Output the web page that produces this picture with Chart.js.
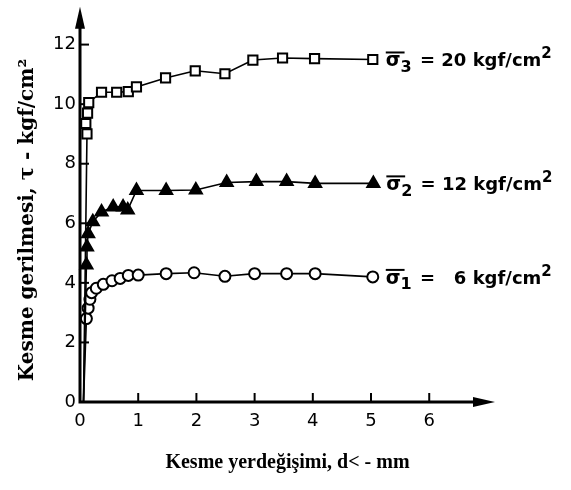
<!DOCTYPE html>
<html lang="tr">
<head>
<meta charset="UTF-8">
<title>Kesme gerilmesi - yerdeğişimi</title>
<script src="https://cdn.jsdelivr.net/npm/chart.js"></script>
<style>
    body { margin: 0; background: #fff; }
    .kutu { width: 571px; height: 490px; }
</style>
</head>
<body>
<div class="kutu"><canvas id="grafik"></canvas></div>
<script>
    // eksen değerleri
    const xTicks = [0, 1, 2, 3, 4, 5, 6];
    const yTicks = [0, 2, 4, 6, 8, 10, 12];
    const xOkUcu = 7.13;   // x ekseni okunun ucu
    const yOkUcu = 13.27;  // y ekseni okunun ucu

    // σ3 = 20 kgf/cm2 (kare)
    const d3 = [0.06, 0.12, 0.10, 0.13, 0.15, 0.37, 0.63, 0.83, 0.97, 1.47, 1.98, 2.49, 2.97, 3.48, 4.03, 5.03];
    const tau3 = [0, 9.0, 9.35, 9.7, 10.05, 10.4, 10.4, 10.42, 10.58, 10.88, 11.12, 11.02, 11.48, 11.55, 11.53, 11.5];

    // σ2 = 12 kgf/cm2 (üçgen)
    const d2 = [0.06, 0.11, 0.12, 0.14, 0.22, 0.37, 0.57, 0.74, 0.82, 0.97, 1.48, 1.99, 2.52, 3.03, 3.55, 4.04, 5.04];
    const tau2 = [0, 4.6, 5.2, 5.65, 6.05, 6.38, 6.55, 6.55, 6.45, 7.1, 7.1, 7.12, 7.37, 7.4, 7.4, 7.34, 7.34];

    // σ1 = 6 kgf/cm2 (daire)
    const d1 = [0.06, 0.11, 0.14, 0.17, 0.20, 0.28, 0.40, 0.55, 0.69, 0.83, 1.00, 1.48, 1.96, 2.49, 3.00, 3.55, 4.04, 5.03];
    const tau1 = [0, 2.8, 3.15, 3.45, 3.67, 3.82, 3.95, 4.07, 4.15, 4.25, 4.26, 4.31, 4.34, 4.22, 4.31, 4.31, 4.31, 4.2];

    const gerilmeler = ['20', '12', '6'];
    const altIndis = ['3', '2', '1'];
    const yBaslik = 'Kesme gerilmesi, τ - kgf/cm²';

    const etiketFont = '"DejaVu Sans", sans-serif';
    const baslikFont = '"Liberation Serif", serif';

    function noktalar(xs, ys) {
        return xs.map((x, i) => ({ x: x, y: ys[i] }));
    }

    function seri(xs, ys, stil, dolgu, r) {
        return {
            data: noktalar(xs, ys),
            borderColor: '#000',
            borderWidth: 1.6,
            pointStyle: stil,
            pointBackgroundColor: dolgu,
            pointBorderColor: '#000',
            pointBorderWidth: 2,
            pointRadius: c => c.dataIndex === 0 ? 0 : r,
            tension: 0,
            clip: false
        };
    }

    // eksen çizgileri, oklar ve içe dönük çentikler
    const eksenCizici = {
        id: 'eksenCizici',
        beforeDatasetsDraw(chart) {
            const { ctx, scales: { x, y } } = chart;
            const x0 = x.getPixelForValue(0);
            const y0 = y.getPixelForValue(0);
            const ust = y.getPixelForValue(yOkUcu);
            const sag = x.getPixelForValue(xOkUcu);
            ctx.save();
            ctx.strokeStyle = '#000';
            ctx.fillStyle = '#000';
            ctx.lineWidth = 3;
            ctx.beginPath();
            ctx.moveTo(x0, ust + 10);
            ctx.lineTo(x0, y0);
            ctx.lineTo(sag - 10, y0);
            ctx.stroke();
            // oklar
            ctx.beginPath();
            ctx.moveTo(x0, ust);
            ctx.lineTo(x0 - 5, ust + 22);
            ctx.lineTo(x0 + 5, ust + 22);
            ctx.closePath();
            ctx.fill();
            ctx.beginPath();
            ctx.moveTo(sag, y0);
            ctx.lineTo(sag - 22, y0 - 5);
            ctx.lineTo(sag - 22, y0 + 5);
            ctx.closePath();
            ctx.fill();
            // çentikler
            ctx.lineWidth = 2;
            xTicks.slice(1).forEach(v => {
                const px = x.getPixelForValue(v);
                ctx.beginPath();
                ctx.moveTo(px, y0);
                ctx.lineTo(px, y0 - 9);
                ctx.stroke();
            });
            yTicks.slice(1).forEach(v => {
                const py = y.getPixelForValue(v);
                ctx.beginPath();
                ctx.moveTo(x0, py);
                ctx.lineTo(x0 + 9, py);
                ctx.stroke();
            });
            // y ekseni başlığı
            ctx.translate(28, 220);
            ctx.rotate(-Math.PI / 2);
            ctx.font = 'bold 20px "DejaVu Serif", serif';
            ctx.textAlign = 'center';
            ctx.textBaseline = 'middle';
            ctx.fillText(yBaslik, 0, 0);
            ctx.restore();
        },
        // eğri sonlarındaki σ etiketleri
        afterDatasetsDraw(chart) {
            const { ctx } = chart;
            ctx.save();
            ctx.fillStyle = '#000';
            ctx.strokeStyle = '#000';
            ctx.textBaseline = 'middle';
            chart.data.datasets.forEach((ds, i) => {
                const meta = chart.getDatasetMeta(i);
                const son = meta.data[meta.data.length - 1];
                let px = son.x + 13;
                const py = son.y + 2;
                ctx.font = 'bold 19px ' + etiketFont;
                ctx.fillText('σ', px, py);
                const sw = ctx.measureText('σ').width;
                ctx.lineWidth = 2;
                ctx.beginPath();
                ctx.moveTo(px, py - 9);
                ctx.lineTo(px + sw + 4, py - 9);
                ctx.stroke();
                px += sw;
                ctx.font = 'bold 16px ' + etiketFont;
                ctx.fillText(altIndis[i], px, py + 6);
                px += ctx.measureText(altIndis[i]).width + 2;
                ctx.font = 'bold 18px ' + etiketFont;
                const govde = ' = ' + (gerilmeler[i].length < 2 ? '  ' : '') + gerilmeler[i] + ' kgf/cm';
                ctx.fillText(govde, px, py);
                px += ctx.measureText(govde).width;
                ctx.font = 'bold 15px ' + etiketFont;
                ctx.fillText('2', px, py - 7);
            });
            ctx.restore();
        }
    };

    new Chart(document.getElementById('grafik'), {
        type: 'scatter',
        data: {
            datasets: [
                seri(d3, tau3, 'rect', '#fff', 6.5),
                seri(d2, tau2, 'triangle', '#000', 7),
                seri(d1, tau1, 'circle', '#fff', 5.5)
            ]
        },
        options: {
            responsive: true,
            maintainAspectRatio: false,
            animation: false,
            showLine: true,
            layout: { padding: { left: 0, top: 5, right: 76, bottom: 0 } },
            plugins: { legend: { display: false }, tooltip: { enabled: false } },
            scales: {
                x: {
                    type: 'linear',
                    min: 0,
                    max: xOkUcu,
                    afterBuildTicks: s => { s.ticks = xTicks.map(v => ({ value: v })); },
                    afterFit: s => { s.height = 88; },
                    grid: { display: false, drawTicks: false },
                    border: { display: false },
                    ticks: {
                        color: '#000',
                        padding: 9,
                        maxRotation: 0,
                        autoSkip: false,
                        font: { family: etiketFont, size: 18 }
                    },
                    title: {
                        display: true,
                        text: 'Kesme yerdeğişimi, d< - mm',
                        color: '#000',
                        font: { family: baslikFont, size: 20, weight: 'bold' },
                        padding: { top: 0, bottom: 15 }
                    }
                },
                y: {
                    type: 'linear',
                    min: 0,
                    max: 13.0,
                    afterBuildTicks: s => { s.ticks = yTicks.map(v => ({ value: v })); },
                    afterFit: s => { s.width = 80; },
                    grid: { display: false, drawTicks: false },
                    border: { display: false },
                    ticks: {
                        color: '#000',
                        padding: 4,
                        font: { family: etiketFont, size: 18 }
                    }
                }
            }
        },
        plugins: [eksenCizici]
    });
</script>
</body>
</html>
